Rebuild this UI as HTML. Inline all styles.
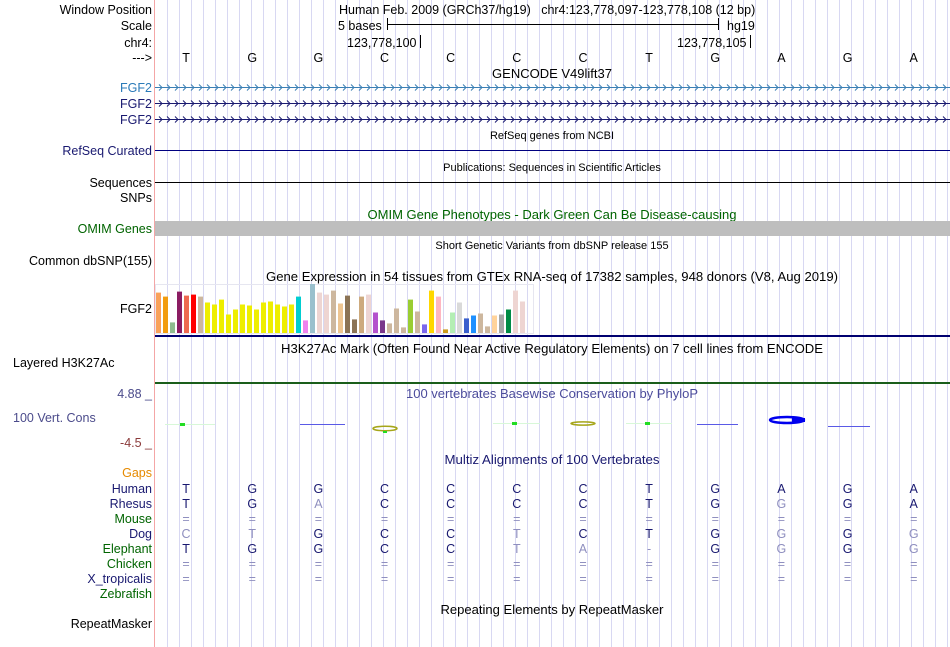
<!DOCTYPE html>
<html><head><meta charset="utf-8">
<style>
html,body{margin:0;padding:0;background:#fff;}
body{width:950px;height:647px;overflow:hidden;position:relative;font-family:"Liberation Sans",sans-serif;}
svg{position:absolute;left:0;top:0;}
</style></head>
<body>
<svg id="s" width="950" height="647" xmlns="http://www.w3.org/2000/svg" font-family="Liberation Sans, sans-serif">
<defs>
<pattern id="chevL" x="157" y="83.5" width="8" height="8" patternUnits="userSpaceOnUse">
<polyline points="2,1 5,4 2,7" fill="none" stroke="#3a7fb4" stroke-width="1"/>
</pattern>
<pattern id="chevN" x="157" y="99.5" width="8" height="8" patternUnits="userSpaceOnUse">
<polyline points="2,1 5,4 2,7" fill="none" stroke="#191970" stroke-width="1"/>
</pattern>
</defs>
<g id="grid"></g>
<line x1="154.5" y1="0" x2="154.5" y2="647" stroke="#f4a6a6" stroke-width="1"/>
<g id="labels" font-size="12.5" text-anchor="end">
<text x="152" y="14" fill="#000">Window Position</text>
<text x="152" y="30" fill="#000">Scale</text>
<text x="152" y="47" fill="#000">chr4:</text>
<text x="152" y="62" fill="#000">---&gt;</text>
<text x="152" y="92" fill="#2a7ab8">FGF2</text>
<text x="152" y="108" fill="#191970">FGF2</text>
<text x="152" y="124" fill="#191970">FGF2</text>
<text x="152" y="155" fill="#191970">RefSeq Curated</text>
<text x="152" y="187" fill="#000">Sequences</text>
<text x="152" y="202" fill="#000">SNPs</text>
<text x="152" y="233" fill="#006400">OMIM Genes</text>
<text x="152" y="265" fill="#000">Common dbSNP(155)</text>
<text x="152" y="313" fill="#000">FGF2</text>
<text x="13" y="367" fill="#000" text-anchor="start">Layered H3K27Ac</text>
<text x="152" y="398" fill="#4b4b8b">4.88 _</text>
<text x="13" y="422" fill="#4b4b8b" text-anchor="start">100 Vert. Cons</text>
<text x="152" y="447" fill="#8b3a3a">-4.5 _</text>
<text x="152" y="477" fill="#e68a00">Gaps</text>
<text x="152" y="628" fill="#000">RepeatMasker</text>
</g>
<g id="species" font-size="12.5" text-anchor="end"></g>
<g font-size="12.5" fill="#000">
<text x="339" y="14">Human Feb. 2009 (GRCh37/hg19)&#160;&#160;&#160;chr4:123,778,097-123,778,108 (12 bp)</text>
<text x="338" y="30">5 bases</text>
<line x1="387.5" y1="18" x2="387.5" y2="30" stroke="#000"/>
<line x1="387" y1="24.5" x2="718" y2="24.5" stroke="#000"/>
<line x1="718.5" y1="18" x2="718.5" y2="30" stroke="#000"/>
<text x="727" y="30">hg19</text>
<text x="347" y="47">123,778,100</text>
<line x1="420.5" y1="35" x2="420.5" y2="48" stroke="#000"/>
<text x="677" y="47">123,778,105</text>
<line x1="750.5" y1="35" x2="750.5" y2="48" stroke="#000"/>
</g>
<g id="bases" font-size="12.5" text-anchor="middle"></g>
<g font-size="13" text-anchor="middle">
<text x="552" y="78" fill="#000">GENCODE V49lift37</text>
<text x="552" y="139" fill="#000" font-size="11">RefSeq genes from NCBI</text>
<text x="552" y="171" fill="#000" font-size="11">Publications: Sequences in Scientific Articles</text>
<text x="552" y="219" fill="#006400" textLength="369" lengthAdjust="spacingAndGlyphs">OMIM Gene Phenotypes - Dark Green Can Be Disease-causing</text>
<text x="552" y="249" fill="#000" font-size="11">Short Genetic Variants from dbSNP release 155</text>
<text x="552" y="281" fill="#000" textLength="572" lengthAdjust="spacingAndGlyphs">Gene Expression in 54 tissues from GTEx RNA-seq of 17382 samples, 948 donors (V8, Aug 2019)</text>
<text x="552" y="353" fill="#000" textLength="542" lengthAdjust="spacingAndGlyphs">H3K27Ac Mark (Often Found Near Active Regulatory Elements) on 7 cell lines from ENCODE</text>
<text x="552" y="398" fill="#4b4b9b" textLength="292" lengthAdjust="spacingAndGlyphs">100 vertebrates Basewise Conservation by PhyloP</text>
<text x="552" y="464" fill="#191970" textLength="215" lengthAdjust="spacingAndGlyphs">Multiz Alignments of 100 Vertebrates</text>
<text x="552" y="614" fill="#000" textLength="223" lengthAdjust="spacingAndGlyphs">Repeating Elements by RepeatMasker</text>
</g>
<g>
<line x1="155" y1="87.5" x2="950" y2="87.5" stroke="#3a7fb4"/>
<rect x="155" y="83.5" width="795" height="8" fill="url(#chevL)"/>
<line x1="155" y1="103.5" x2="950" y2="103.5" stroke="#191970"/>
<rect x="155" y="99.5" width="795" height="8" fill="url(#chevN)"/>
<line x1="155" y1="119.5" x2="950" y2="119.5" stroke="#191970"/>
<rect x="155" y="115.5" width="795" height="8" fill="url(#chevN)"/>
<line x1="155" y1="150.5" x2="950" y2="150.5" stroke="#000080"/>
<line x1="155" y1="182.5" x2="950" y2="182.5" stroke="#000"/>
<rect x="155" y="221" width="795" height="15" fill="#bebebe"/>
</g>
<g id="gtex">
<rect x="155.5" y="284.5" width="378" height="49" fill="none" stroke="#e6e6f0"/>
</g>
<rect x="155" y="335" width="795" height="2" fill="#000070"/>
<rect x="155" y="382" width="795" height="2" fill="#1a5e1a"/>
<g>
<line x1="165" y1="424.5" x2="215" y2="424.5" stroke="#d8f8d8"/>
<rect x="180" y="423" width="5" height="3" fill="#22dd22"/>
<line x1="300" y1="424.5" x2="345" y2="424.5" stroke="#5a5ae6"/>
<ellipse cx="385" cy="428.5" rx="12" ry="2.2" fill="none" stroke="#a6a61a" stroke-width="1.5"/>
<rect x="383" y="431" width="4" height="2" fill="#22dd22"/>
<line x1="493" y1="423.5" x2="540" y2="423.5" stroke="#d8f8d8"/>
<rect x="512" y="422" width="5" height="3" fill="#22dd22"/>
<ellipse cx="583" cy="423.5" rx="12" ry="1.6" fill="none" stroke="#a6a61a" stroke-width="1.5"/>
<line x1="626" y1="423.5" x2="672" y2="423.5" stroke="#d8f8d8"/>
<rect x="645" y="422" width="5" height="3" fill="#22dd22"/>
<line x1="697" y1="424.5" x2="738" y2="424.5" stroke="#5a5ae6"/>
<ellipse cx="787" cy="420" rx="17" ry="3" fill="none" stroke="#0000ee" stroke-width="2.5"/>
<rect x="792" y="418" width="13" height="4" fill="#0000ee"/>
<line x1="828" y1="426.5" x2="870" y2="426.5" stroke="#5a5ae6"/>
</g>
<g id="align" font-size="12.5" text-anchor="middle"></g>
</svg>
<script>
var NS="http://www.w3.org/2000/svg";
var bases=["T","G","G","C","C","C","C","T","G","A","G","A"];
var species=["Human","Rhesus","Mouse","Dog","Elephant","Chicken","X_tropicalis","Zebrafish"];
var speciesColors=["#191970","#191970","#006400","#191970","#006400","#006400","#191970","#006400"];
// uppercase = strong, lowercase = faded, "=" = identical/unaligned
var alnHuman="TGGCCCCTGAGA";
var alnRhesus="TGaCCCCTGgGA";
var alnMouse="============";
var alnDog="ctGCCtCTGgGg";
var alnElephant="TGGCCta-GgGg";
var alnChicken="============";
var alnXtrop="============";
var alnZebra="";
var gtexValues=[122,110,32,125,113,116,110,92,86,101,56,71,86,83,71,92,95,86,80,86,110,38,148,122,116,128,89,113,41,110,116,62,38,29,74,17,101,65,26,128,110,11,62,92,44,53,59,20,53,56,71,128,95];
var gtexColors=["#f9a15a","#f29c0f","#8fbc8f","#8b1c62","#ee6a50","#ff0000","#cdb79e","#eeee00","#eeee00","#eeee00","#eeee00","#eeee00","#eeee00","#eeee00","#eeee00","#eeee00","#eeee00","#eeee00","#eeee00","#eeee00","#00ced1","#ee82ee","#9ac0cd","#eed5d2","#eed5d2","#cdb79e","#eec591","#8b7355","#8b7355","#cdaa7d","#eed5d2","#b452cd","#7a378b","#cdb79e","#cdb79e","#cdb79e","#9acd32","#cdb79e","#7b68ee","#ffd700","#ffb6c1","#cd9b1d","#b4eeb4","#d9d9d9","#3a5fcd","#1e90ff","#cdb79e","#cdb79e","#ffd39b","#a6a6a6","#008b45","#eed5d2","#eed5d2"];
var gtexMax=148;

var svg=document.getElementById("s");
function bx(i){return 153+66.15*(i+0.5);}
var grid=document.getElementById("grid");
for(var x=167.5;x<950;x+=12){
  var l=document.createElementNS(NS,"line");
  l.setAttribute("x1",x.toFixed(1));l.setAttribute("x2",x.toFixed(1));
  l.setAttribute("y1",0);l.setAttribute("y2",647);
  l.setAttribute("stroke","#d8d8f2");
  
  
  grid.appendChild(l);
}
var bg=document.getElementById("bases");
bases.forEach(function(b,i){
  var t=document.createElementNS(NS,"text");
  t.setAttribute("x",bx(i));t.setAttribute("y",62);t.textContent=b;
  
  
  bg.appendChild(t);
});
var gg=document.getElementById("gtex");
var base=333,hmax=49;
function gy(v){return v/gtexMax*hmax;}
gtexValues.forEach(function(v,i){
  var r=document.createElementNS(NS,"rect");
  var h=gy(v);
  r.setAttribute("x",156+7*i);r.setAttribute("y",(base-h).toFixed(1));
  r.setAttribute("width",5);r.setAttribute("height",h.toFixed(1));
  r.setAttribute("fill",gtexColors[i]);
  
  
  gg.appendChild(r);
});
var sg=document.getElementById("species"),ag=document.getElementById("align");
var rows=[alnHuman,alnRhesus,alnMouse,alnDog,alnElephant,alnChicken,alnXtrop,alnZebra];
species.forEach(function(sp,r){
  var y=493+15*r;
  var t=document.createElementNS(NS,"text");
  t.setAttribute("x",152);t.setAttribute("y",y);t.setAttribute("fill",speciesColors[r]);
  t.textContent=sp;
  
  
  sg.appendChild(t);
  var s=rows[r];
  for(var i=0;i<s.length;i++){
    var c=s[i];
    var a=document.createElementNS(NS,"text");
    a.setAttribute("x",bx(i));a.setAttribute("y",y);
    var faded=(c==="="||c==="-"||c!==c.toUpperCase());
    a.setAttribute("fill",faded?"#8f8fbf":"#191970");
    a.textContent=c.toUpperCase();
    
    
    ag.appendChild(a);
  }
});
</script>
</body></html>
